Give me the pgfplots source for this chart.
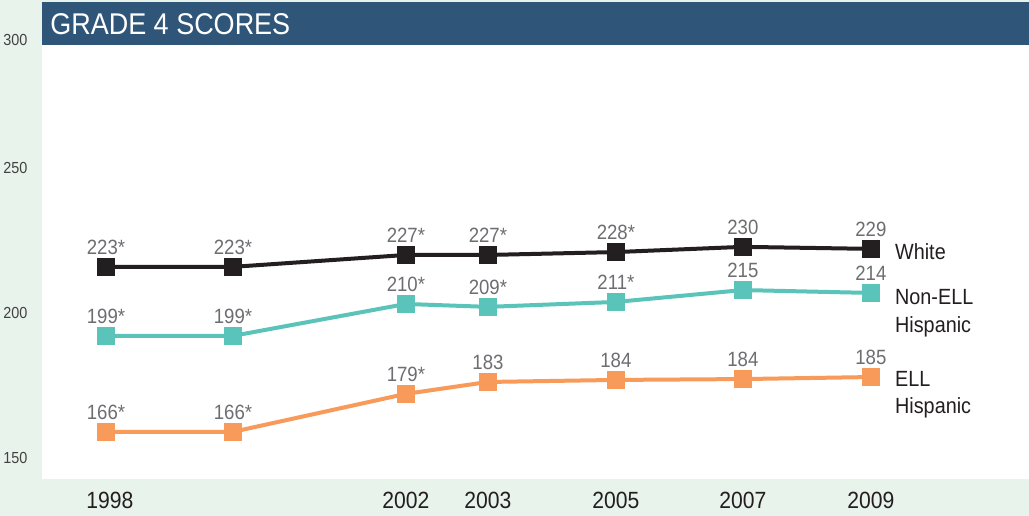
\documentclass[border=0pt]{standalone}
\usepackage{fontspec}
\setmainfont{Liberation Sans}[FakeStretch=0.9]
\usepackage{pgfplots}
\usepackage{pgfplotstable}
\pgfplotsset{compat=1.18}
\definecolor{bggreen}{HTML}{E8F3EC}
\definecolor{titleblue}{HTML}{2F5579}
\definecolor{linewhite}{HTML}{231F20}
\definecolor{lineteal}{HTML}{5BC4BA}
\definecolor{lineorange}{HTML}{F79A5A}
\definecolor{labgrey}{HTML}{6D6E71}
\definecolor{txtdark}{HTML}{231F20}

\pgfplotstableread{
x y label
106 215.9 223*
233 215.9 223*
406 220.0 227*
488 220.0 227*
616 221.0 228*
743 222.8 230
871 222.1 229
}\whitedata
\pgfplotstableread{
x y label
106 192.1 199*
233 192.1 199*
406 203.1 210*
488 202.1 209*
616 203.8 211*
743 207.9 215
871 206.9 214
}\nonelldata
\pgfplotstableread{
x y label
106 159.0 166*
233 159.0 166*
406 172.1 179*
488 176.2 183
616 176.9 184
743 177.2 184
871 177.9 185
}\elldata

\begin{document}
\begin{tikzpicture}
\fill[bggreen] (0,0) rectangle (771.75pt,387pt);
\begin{axis}[
  at={(31.5pt,27.75pt)}, anchor=south west,
  scale only axis, width=740.25pt, height=330.75pt,
  xmin=42, xmax=1029, ymin=142.76, ymax=294.83,
  axis line style={draw=none},
  axis background/.style={fill=white},
  major tick length=0pt,
  clip=false,
  /pgf/number format/assume math mode=true,
  xtick={110,406,488,616,743,871},
  xticklabels={1998,2002,2003,2005,2007,2009},
  xticklabel style={anchor=center, inner sep=0pt, yshift=-15.75pt, font=\fontsize{17.6pt}{20pt}\selectfont, text=txtdark},
  ytick={150,200,250,294.1},
  yticklabels={150,200,250,300},
  yticklabel style={anchor=west, inner sep=0pt, xshift=-29.25pt, font=\fontsize{12pt}{14pt}\selectfont, text=txtdark!85},
  nodes near coords,
  point meta=explicit symbolic,
  every node near coord/.style={anchor=south, inner sep=0pt, yshift=7.5pt, font=\fontsize{15.5pt}{17pt}\selectfont, text=labgrey},
]
\addplot[linewhite, line width=3pt, mark=square*, mark size=5.25pt, mark options={solid, draw=none}] table[x=x, y=y, meta=label] {\whitedata};
\addplot[lineteal, line width=3pt, mark=square*, mark size=5.25pt, mark options={solid, draw=none}] table[x=x, y=y, meta=label] {\nonelldata};
\addplot[lineorange, line width=3pt, mark=square*, mark size=5.25pt, mark options={solid, draw=none}] table[x=x, y=y, meta=label] {\elldata};
\begin{scope}[every node/.style={anchor=west, inner sep=0pt, font=\fontsize{16.5pt}{19pt}\selectfont, text=txtdark}]
\node at (axis cs:895,221.0) {White};
\node at (axis cs:895,205.5) {Non-ELL};
\node at (axis cs:895,195.2) {Hispanic};
\node at (axis cs:895,177.2) {ELL};
\node at (axis cs:895,167.2) {Hispanic};
\end{scope}
\end{axis}
\fill[titleblue] (31.5pt,353.25pt) rectangle (771.75pt,385.5pt);
\node[anchor=west, inner sep=0pt, text=white, font=\fontsize{22.5pt}{26pt}\selectfont] at (37.5pt,368.6pt) {GRADE 4 SCORES};
\end{tikzpicture}
\end{document}
